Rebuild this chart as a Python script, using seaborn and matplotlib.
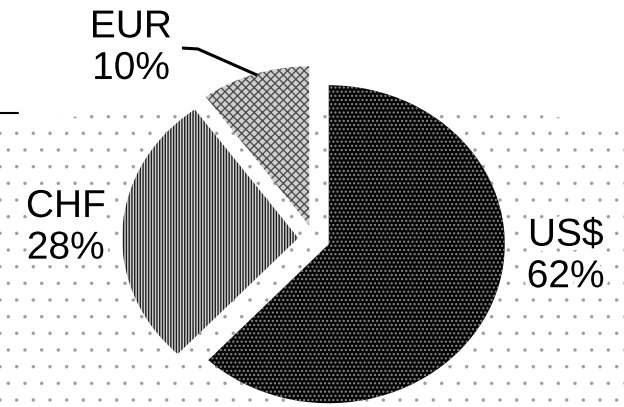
import matplotlib
matplotlib.use("Agg")
import matplotlib.pyplot as plt
import seaborn as sns
from matplotlib.patches import Ellipse
import matplotlib.patheffects as pe

sns.set_theme(style="white")
plt.rcParams['font.family'] = ['Liberation Sans', 'DejaVu Sans']

# data
currencies = ["US$", "CHF", "EUR"]
shares = [62, 28, 10]
explode = [0.09, 0.09, 0.09]
label_x = [1.43, -1.41, -1.04]
label_y = [-0.11, 0.07, 1.20]

fig = plt.figure(figsize=(6.24, 4.07), dpi=100)
ax = fig.add_axes([0, 0, 1, 1])

# dotted background base
plt.rcParams['hatch.linewidth'] = 0.1
bg = Ellipse((0, -1.013), width=2 * 800 / 176, height=2 * 297 / 159,
             facecolor="white", edgecolor="#a0a0a0", hatch=".", linewidth=0, zorder=0)
ax.add_patch(bg)

plt.rcParams['hatch.linewidth'] = 1.0
wedges, _ = ax.pie(shares, explode=explode, startangle=90, counterclock=False,
                   radius=1.0, center=(0, 0))
styles = [
    dict(facecolor="#050505", edgecolor="#8c8c8c", hatch="...."),
    dict(facecolor="#d4d4d4", edgecolor="#1e1e1e", hatch="||||||"),
    dict(facecolor="#cfcfcf", edgecolor="#505050", hatch="xxxx"),
]
for w, st in zip(wedges, styles):
    w.set_facecolor(st["facecolor"])
    w.set_edgecolor(st["edgecolor"])
    w.set_hatch(st["hatch"])
    w.set_linewidth(0)
    w.set_zorder(2)

for name, val, x, y in zip(currencies, shares, label_x, label_y):
    ax.text(x, y, f"{name}\n{val}%", ha="center", va="center", fontsize=28,
            linespacing=1.2, color="black", zorder=5,
            path_effects=[pe.withStroke(linewidth=7, foreground="white")])

# leader line for EUR and stray fragment
ax.plot([-0.75, -0.66, -0.324], [1.201, 1.195, 1.031], color="black", lw=2.2, zorder=5,
        solid_capstyle="butt")
ax.plot([-1.784, -1.68], [0.79, 0.79], color="black", lw=1.5, zorder=5)

ax.set_aspect("auto")
ax.set_xlim(-1.784, 1.761)
ax.set_ylim(-1.057, 1.503)
ax.axis("off")

fig.savefig("out.png", dpi=100, facecolor="white")
